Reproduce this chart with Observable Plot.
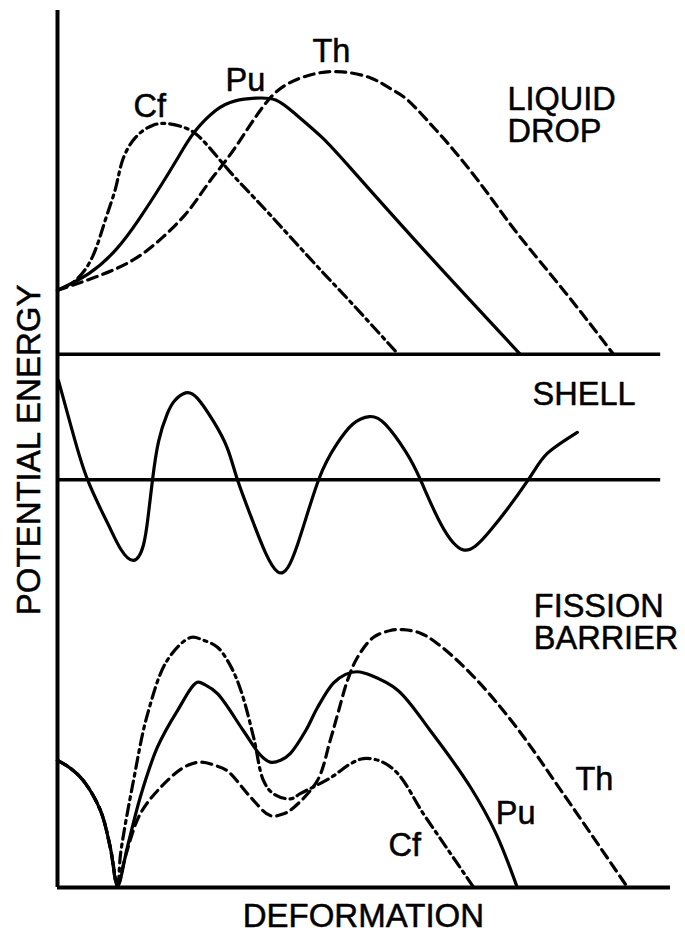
<!DOCTYPE html>
<html><head><meta charset="utf-8">
<script src="https://cdn.jsdelivr.net/npm/d3@7"></script>
<script src="https://cdn.jsdelivr.net/npm/@observablehq/plot@0.6"></script>
<style>html,body{margin:0;padding:0;background:#fff;} svg{display:block}</style>
</head><body><div id="chart"></div>
<script>
// Deformation (0–100, arbitrary) vs potential energy (arbitrary units)
// Panel baselines on the shared energy axis
const LIQUID_BASE = 60.8;
const SHELL_BASE = 46.5;

// Liquid-drop energy above its baseline: [deformation, energy]
const liquidCf = [[0,7.3],[2.9,8.4],[5.7,11.1],[7.8,15.3],[9.5,19.0],[10.6,22.1],[12.7,24.7],[15.5,26.1],[18.1,26.3],[20.9,25.8],[23.7,24.4],[27.9,21.0],[32.3,17.7],[37.7,13.6],[43.2,9.4],[47.5,6.2],[55.6,0]];
const liquidPu = [[0,7.3],[5.1,9.2],[9.5,11.9],[13.2,15.3],[17.1,19.5],[20.4,23.3],[22.5,25.5],[25.8,27.8],[29.0,28.9],[32.3,29.2],[35.6,29.0],[38.8,27.4],[43.2,24.7],[48.6,20.6],[60.8,11.1],[75.5,0]];
const liquidTh = [[0,7.3],[6.2,8.8],[12.2,10.7],[17.1,13.3],[21.4,16.4],[24.6,19.5],[27.9,22.5],[31.2,25.9],[34.4,29.0],[37.7,30.9],[42.1,32.0],[46.5,32.2],[51.1,31.5],[54.3,30.3],[57.1,29.0],[60.8,26.3],[64.6,23.3],[69.8,18.7],[75.0,13.8],[82.9,7.0],[90.7,0]];

// Shell correction around its baseline
const shell = [[0.16,11.3],[2.4,5.6],[4.9,0],[8.2,-5.0],[10.3,-7.9],[12.4,-9.2],[14.0,-7.5],[14.8,-4.1],[15.5,0],[16.5,4.4],[17.9,7.5],[19.1,9.0],[20.9,9.9],[22.8,9.3],[25.4,6.7],[27.7,3.6],[29.4,-0.1],[32.0,-5.0],[35.9,-10.5],[39.2,-7.3],[42.6,0],[45.5,4.0],[48.1,6.3],[50.9,7.2],[53.5,6.3],[56.8,3.2],[59.2,0],[62.5,-5.0],[66.2,-8.0],[70.6,-5.8],[76.7,-0.1],[79.9,3.0],[84.8,5.4]];

// Fission barrier (sum)
const barrierCf = [[0,14.5],[2.1,13.6],[4.2,12.2],[7.0,8.8],[8.6,4.6],[9.8,0.2],[10.3,3.9],[12.4,12.2],[14.7,19.8],[17.9,25.9],[21.7,28.5],[23.8,28.2],[26.1,27.4],[28.2,25.3],[29.9,22.5],[32.0,17.1],[33.6,12.2],[35.2,10.7],[38.0,10.1],[39.6,10.7],[44.5,12.5],[47.8,14.1],[49.9,14.7],[52.7,14.4],[55.5,13.0],[59.7,8.4],[63.8,4.2],[67.9,0]];
const barrierPu = [[0,14.5],[2.1,13.6],[4.2,12.2],[7.0,8.8],[8.6,4.6],[9.8,0.2],[11.4,4.6],[13.5,10.3],[16.3,16.0],[19.6,20.2],[22.8,23.4],[24.1,23.1],[26.1,22.1],[30.3,17.9],[33.1,15.1],[34.7,14.3],[36.4,14.5],[38.0,15.3],[40.5,17.9],[42.4,20.5],[45.0,23.3],[47.0,24.3],[48.9,24.6],[51.1,24.2],[55.5,22.5],[60.8,17.9],[67.4,11.4],[71.5,6.2],[75.0,0]];
const barrierTh = [[0,14.5],[2.1,13.6],[4.2,12.2],[7.0,8.8],[8.6,4.6],[9.8,0.2],[11.1,3.6],[13.5,8.4],[16.8,11.4],[20.6,13.7],[23.3,14.3],[25.8,13.9],[27.7,13.3],[31.5,10.3],[34.7,8.2],[36.9,8.4],[38.5,9.1],[42.4,12.2],[44.5,16.8],[45.8,20.0],[47.3,23.6],[48.9,26.2],[51.5,28.5],[54.3,29.3],[56.4,29.4],[59.2,29.0],[62.0,27.8],[67.4,24.4],[74.4,18.7],[82.5,10.7],[93.0,0]];

const panelTitles = ["LIQUID\nDROP", "SHELL", "FISSION\nBARRIER"];
const nuclei = ["Cf", "Pu", "Th"];
const axisTitles = {x: "DEFORMATION", y: "POTENTIAL ENERGY"};

const FONT = "'Liberation Sans', Arial, Helvetica, sans-serif";
const DASH = {Cf: "11,5,3,5", Pu: null, Th: "10,6"};
const lineStyle = (n, curve) => ({stroke: "black", strokeWidth: 3.2, curve, strokeDasharray: DASH[n] ?? undefined, strokeLinejoin: "round"});
const textStyle = {fill: "black", stroke: "black", strokeWidth: 0.5, textAnchor: "start", lineAnchor: "top", fontSize: 32.5};

// label placements (in data units)
const titleSpots = [{text: panelTitles[0], x: 73.4, y: 91.3}, {text: panelTitles[1], x: 77.5, y: 57.7}, {text: panelTitles[2], x: 77.7, y: 33.5}];
const liquidLabels = [{text: nuclei[0], x: 12.4, y: 90.5}, {text: nuclei[1], x: 27.4, y: 93.4}, {text: nuclei[2], x: 41.6, y: 96.8}];
const barrierLabels = [{text: nuclei[0], x: 54.0, y: 6.2}, {text: nuclei[1], x: 71.5, y: 9.9}, {text: nuclei[2], x: 84.5, y: 13.7}];

const chart = Plot.plot({
  width: 685, height: 933,
  marginTop: 10, marginBottom: 46, marginLeft: 57, marginRight: 15,
  x: {domain: [0, 100], axis: null},
  y: {domain: [0, 100], axis: null},
  style: {fontFamily: FONT, background: "white", color: "black"},
  marks: [
    Plot.ruleX([0], {stroke: "black", strokeWidth: 4}),
    Plot.ruleY([0], {stroke: "black", strokeWidth: 4}),
    Plot.ruleY([LIQUID_BASE], {x1: 0, x2: 98.4, stroke: "black", strokeWidth: 3.6}),
    Plot.ruleY([SHELL_BASE], {x1: 0, x2: 98.4, stroke: "black", strokeWidth: 3.6}),
    Plot.line(liquidCf, {x: d => d[0], y: d => LIQUID_BASE + d[1], ...lineStyle("Cf", "natural")}),
    Plot.line(liquidPu, {x: d => d[0], y: d => LIQUID_BASE + d[1], ...lineStyle("Pu", "natural")}),
    Plot.line(liquidTh, {x: d => d[0], y: d => LIQUID_BASE + d[1], ...lineStyle("Th", "natural")}),
    Plot.line(shell, {x: d => d[0], y: d => SHELL_BASE + d[1], ...lineStyle("Pu", "natural")}),
    Plot.line(barrierCf, {x: d => d[0], y: d => d[1], ...lineStyle("Cf", "catmull-rom")}),
    Plot.line(barrierPu, {x: d => d[0], y: d => d[1], ...lineStyle("Pu", "catmull-rom")}),
    Plot.line(barrierTh, {x: d => d[0], y: d => d[1], ...lineStyle("Th", "catmull-rom")}),
    Plot.text(titleSpots, {x: "x", y: "y", text: "text", lineHeight: 1.0, ...textStyle}),
    Plot.text(liquidLabels, {x: "x", y: "y", text: "text", ...textStyle}),
    Plot.text(barrierLabels, {x: "x", y: "y", text: "text", ...textStyle}),
    Plot.text([axisTitles.x], {x: 49.9, y: -1.8, text: d => d, ...textStyle, textAnchor: "middle", fontSize: 33}),
    Plot.text([axisTitles.y], {x: -4.6, y: 49.9, text: d => d, ...textStyle, rotate: -90, textAnchor: "middle", lineAnchor: "middle", fontSize: 33})
  ]
});
document.getElementById("chart").appendChild(chart);
</script></body></html>
